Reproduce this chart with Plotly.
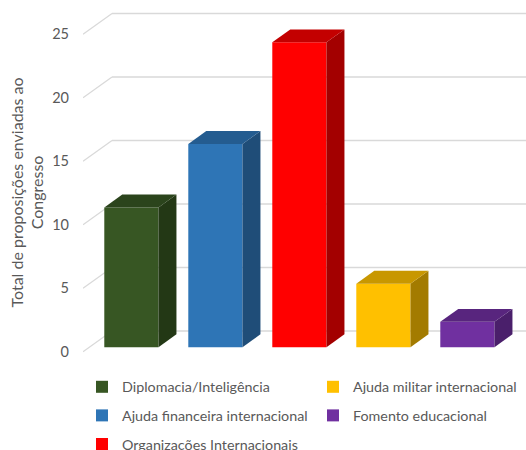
import plotly.graph_objects as go

# ---- data -------------------------------------------------------------
categories = [
    "Diplomacia/Inteligência",
    "Ajuda financeira internacional",
    "Organizações Internacionais",
    "Ajuda militar internacional",
    "Fomento educacional",
]
values = [11, 16, 24, 5, 2]
tick_values = [0, 5, 10, 15, 20, 25]
front_colors = ["#375623", "#2E75B6", "#FF0000", "#FFC000", "#7030A0"]
top_colors = ["#2B441C", "#245C90", "#C30000", "#C89700", "#58257E"]
side_colors = ["#233815", "#1F4D78", "#A30000", "#A37B00", "#4A1F6B"]
legend_column = ["legend", "legend", "legend", "legend2", "legend2"]

# ---- pseudo-3D geometry (in axis units) -------------------------------
PX_PER_CAT = 84.0      # pixels per category slot
PX_PER_UNIT = 12.7     # pixels per y unit
WALL_DX = 29.0 / PX_PER_CAT          # depth of the back wall, x shift
WALL_DY = 20.7 / PX_PER_UNIT         # depth of the back wall, y shift
BAR_D0 = 0.22                        # depth where a bar's front face sits
BAR_DEPTH = 0.62                     # bar depth as a share of the wall depth
BAR_W = 0.645                        # bar width in category units

FONT = "Lato"
GREY = "#595959"

fig = go.Figure()

for i, (cat, v) in enumerate(zip(categories, values)):
    x_front = i + BAR_D0 * WALL_DX
    base = BAR_D0 * WALL_DY
    xl, xr = x_front - BAR_W / 2, x_front + BAR_W / 2
    top = base + v
    sdx, sdy = BAR_DEPTH * WALL_DX, BAR_DEPTH * WALL_DY

    # side face
    fig.add_trace(go.Scatter(
        x=[xr, xr, xr + sdx, xr + sdx, xr],
        y=[base, top, top + sdy, base + sdy, base],
        fill="toself", fillcolor=side_colors[i], mode="lines",
        line=dict(width=0), hoverinfo="skip", showlegend=False,
    ))
    # top face
    fig.add_trace(go.Scatter(
        x=[xl, xr, xr + sdx, xl + sdx, xl],
        y=[top, top, top + sdy, top + sdy, top],
        fill="toself", fillcolor=top_colors[i], mode="lines",
        line=dict(width=0), hoverinfo="skip", showlegend=False,
    ))
    # front face
    fig.add_trace(go.Bar(
        x=[x_front], y=[v], base=[base], width=[BAR_W],
        name=cat, marker=dict(color=front_colors[i], line=dict(width=0)),
        legend=legend_column[i], legendgroup=cat,
    ))

# back wall gridlines with the left-wall diagonals
x_min = -0.5
x_max = -0.5 + 443.0 / PX_PER_CAT
for t in tick_values:
    fig.add_shape(type="line", xref="x", yref="y", layer="below",
                  x0=x_min, y0=t, x1=x_min + WALL_DX, y1=t + WALL_DY,
                  line=dict(color="#D9D9D9", width=1.3))
    fig.add_shape(type="line", xref="x", yref="y", layer="below",
                  x0=x_min + WALL_DX, y0=t + WALL_DY, x1=x_max, y1=t + WALL_DY,
                  line=dict(color="#D9D9D9", width=1.3))

plot_h = 450 - 4 - 88
y_top = 351.7 / PX_PER_UNIT - (4 - 0) / PX_PER_UNIT
y_bottom = y_top - plot_h / PX_PER_UNIT

legend_style = dict(xanchor="left", y=(362 - 371) / plot_h, yanchor="top",
                    orientation="v", tracegroupgap=7,
                    font=dict(family=FONT, size=14.3, color=GREY),
                    bgcolor="rgba(0,0,0,0)", itemclick=False)

fig.update_layout(
    width=526, height=450,
    margin=dict(l=83, r=0, t=4, b=88, autoexpand=False),
    paper_bgcolor="white", plot_bgcolor="white",
    font=dict(family=FONT, size=14, color=GREY),
    barmode="overlay",
    showlegend=True,
    xaxis=dict(range=[x_min, x_max], visible=False, fixedrange=True),
    yaxis=dict(range=[y_bottom, y_top], tickvals=tick_values,
               showgrid=False, zeroline=False, showline=False,
               ticks="", ticklabelstandoff=13,
               tickfont=dict(family=FONT, size=14.5, color=GREY)),
    legend=dict(x=(82 - 83) / 443, **legend_style),
    legend2=dict(x=(313 - 83) / 443, **legend_style),
    annotations=[dict(
        text="Total de proposições enviadas ao<br>Congresso",
        textangle=-90, xref="paper", yref="paper",
        x=(26.5 - 83) / 443, y=(362 - 193) / plot_h,
        xanchor="center", yanchor="middle", showarrow=False,
        font=dict(family=FONT, size=16, color=GREY),
    )],
)

fig.write_html("out.html")
